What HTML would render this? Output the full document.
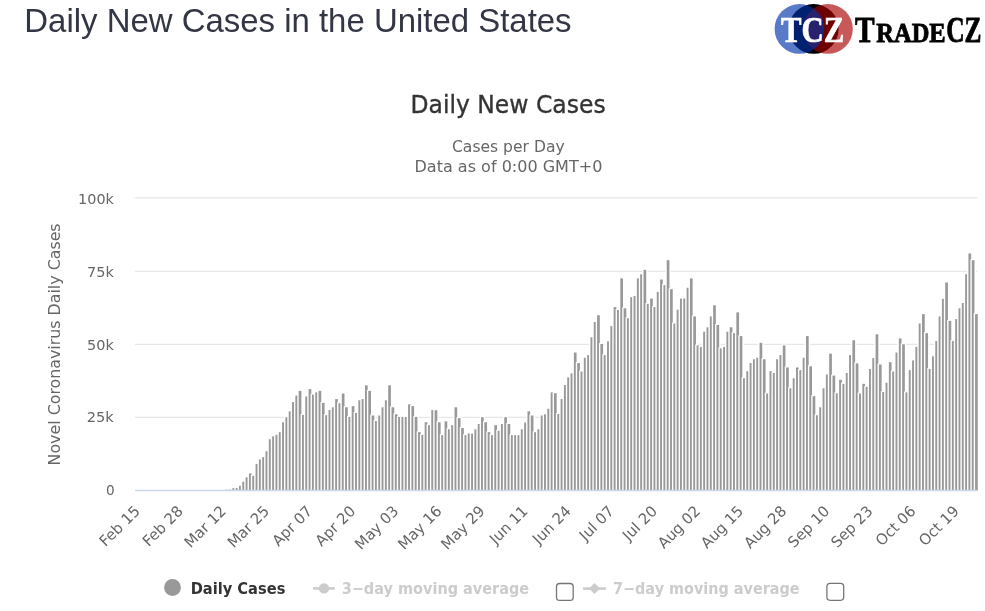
<!DOCTYPE html>
<html><head><meta charset="utf-8"><title>Daily New Cases in the United States</title>
<style>
html,body{margin:0;padding:0;background:#fff;}
body{width:985px;height:611px;overflow:hidden;position:relative;font-family:"Liberation Sans",sans-serif;}
svg{position:absolute;left:0;top:0;}
</style></head><body>
<svg width="985" height="611" viewBox="0 0 985 611">
<text x="24.30" y="31.9" font-family="'Liberation Sans', sans-serif" font-weight="normal" font-size="33" fill="#333644" textLength="547.29" lengthAdjust="spacingAndGlyphs">Daily New Cases in the United States</text>
<g id="logo">
<circle cx="813.7" cy="28.9" r="24.9" fill="#000"/>
<circle cx="827.9" cy="28.9" r="24.9" fill="rgb(170,0,0)" fill-opacity="0.65"/>
<circle cx="799.5" cy="28.9" r="24.9" fill="rgb(0,50,170)" fill-opacity="0.65"/>
<text x="781.00" y="42.0" font-family="'Liberation Serif', serif" font-weight="bold" font-size="35.3" fill="#fff" stroke="#fff" stroke-width="0.7" textLength="63.24" lengthAdjust="spacingAndGlyphs">TCZ</text>
<text y="41.8" font-family="'Liberation Serif', serif" font-weight="bold" fill="#000" stroke="#000" stroke-width="0.8"><tspan x="855.00" font-size="35.3" textLength="19.62" lengthAdjust="spacingAndGlyphs">T</tspan><tspan x="876.30" font-size="28" textLength="69.39" lengthAdjust="spacingAndGlyphs">RADE</tspan><tspan x="946.18" font-size="35.3" textLength="35.33" lengthAdjust="spacingAndGlyphs">CZ</tspan></text>
</g>
<g id="chart">
<path d="M135 197.8H977.3" stroke="#e6e6e6" stroke-width="1.2"/><path d="M135 271.4H977.3" stroke="#e6e6e6" stroke-width="1.2"/><path d="M135 344.4H977.3" stroke="#e6e6e6" stroke-width="1.2"/><path d="M135 417.3H977.3" stroke="#e6e6e6" stroke-width="1.2"/>
<g fill="#999">
<rect x="202.51" y="490.44" width="2.7" height="0.06"/>
<rect x="205.83" y="490.41" width="2.7" height="0.09"/>
<rect x="209.15" y="490.35" width="2.7" height="0.15"/>
<rect x="212.46" y="490.29" width="2.7" height="0.21"/>
<rect x="215.78" y="490.21" width="2.7" height="0.29"/>
<rect x="219.09" y="490.15" width="2.7" height="0.35"/>
<rect x="222.41" y="489.91" width="2.7" height="0.59"/>
<rect x="225.73" y="489.77" width="2.7" height="0.73"/>
<rect x="229.04" y="489.62" width="2.7" height="0.88"/>
<rect x="230.96" y="487.26" width="5.50" height="3.24" fill="#fff"/>
<rect x="232.36" y="488.16" width="2.7" height="2.34"/>
<rect x="234.27" y="486.96" width="5.50" height="3.54" fill="#fff"/>
<rect x="235.67" y="487.86" width="2.7" height="2.64"/>
<rect x="237.59" y="484.91" width="5.50" height="5.59" fill="#fff"/>
<rect x="238.99" y="485.81" width="2.7" height="4.69"/>
<rect x="240.90" y="480.81" width="5.50" height="9.69" fill="#fff"/>
<rect x="242.30" y="481.71" width="2.7" height="8.79"/>
<rect x="244.22" y="476.42" width="5.50" height="14.08" fill="#fff"/>
<rect x="245.62" y="477.31" width="2.7" height="13.18"/>
<rect x="247.54" y="472.61" width="5.50" height="17.89" fill="#fff"/>
<rect x="248.94" y="473.51" width="2.7" height="16.99"/>
<rect x="250.85" y="474.95" width="5.50" height="15.55" fill="#fff"/>
<rect x="252.25" y="475.85" width="2.7" height="14.65"/>
<rect x="254.17" y="462.94" width="5.50" height="27.56" fill="#fff"/>
<rect x="255.57" y="463.84" width="2.7" height="26.66"/>
<rect x="257.48" y="458.54" width="5.50" height="31.96" fill="#fff"/>
<rect x="258.88" y="459.44" width="2.7" height="31.06"/>
<rect x="260.80" y="456.20" width="5.50" height="34.30" fill="#fff"/>
<rect x="262.20" y="457.10" width="2.7" height="33.40"/>
<rect x="264.11" y="450.34" width="5.50" height="40.16" fill="#fff"/>
<rect x="265.51" y="451.24" width="2.7" height="39.26"/>
<rect x="267.43" y="438.33" width="5.50" height="52.17" fill="#fff"/>
<rect x="268.83" y="439.23" width="2.7" height="51.27"/>
<rect x="270.75" y="435.40" width="5.50" height="55.10" fill="#fff"/>
<rect x="272.15" y="436.30" width="2.7" height="54.20"/>
<rect x="274.06" y="433.93" width="5.50" height="56.57" fill="#fff"/>
<rect x="275.46" y="434.83" width="2.7" height="55.67"/>
<rect x="277.38" y="431.29" width="5.50" height="59.21" fill="#fff"/>
<rect x="278.78" y="432.19" width="2.7" height="58.31"/>
<rect x="280.69" y="421.33" width="5.50" height="69.17" fill="#fff"/>
<rect x="282.09" y="422.23" width="2.7" height="68.27"/>
<rect x="284.01" y="416.35" width="5.50" height="74.15" fill="#fff"/>
<rect x="285.41" y="417.25" width="2.7" height="73.25"/>
<rect x="287.32" y="410.49" width="5.50" height="80.01" fill="#fff"/>
<rect x="288.72" y="411.39" width="2.7" height="79.11"/>
<rect x="290.64" y="401.11" width="5.50" height="89.39" fill="#fff"/>
<rect x="292.04" y="402.01" width="2.7" height="88.49"/>
<rect x="293.96" y="394.67" width="5.50" height="95.83" fill="#fff"/>
<rect x="295.36" y="395.57" width="2.7" height="94.93"/>
<rect x="297.27" y="389.98" width="5.50" height="100.52" fill="#fff"/>
<rect x="298.67" y="390.88" width="2.7" height="99.62"/>
<rect x="300.59" y="414.01" width="5.50" height="76.49" fill="#fff"/>
<rect x="301.99" y="414.91" width="2.7" height="75.59"/>
<rect x="303.90" y="395.55" width="5.50" height="94.95" fill="#fff"/>
<rect x="305.30" y="396.45" width="2.7" height="94.05"/>
<rect x="307.22" y="388.22" width="5.50" height="102.28" fill="#fff"/>
<rect x="308.62" y="389.12" width="2.7" height="101.38"/>
<rect x="310.53" y="393.79" width="5.50" height="96.71" fill="#fff"/>
<rect x="311.93" y="394.69" width="2.7" height="95.81"/>
<rect x="313.85" y="391.45" width="5.50" height="99.06" fill="#fff"/>
<rect x="315.25" y="392.35" width="2.7" height="98.16"/>
<rect x="317.17" y="389.98" width="5.50" height="100.52" fill="#fff"/>
<rect x="318.57" y="390.88" width="2.7" height="99.62"/>
<rect x="320.48" y="401.99" width="5.50" height="88.51" fill="#fff"/>
<rect x="321.88" y="402.89" width="2.7" height="87.61"/>
<rect x="323.80" y="414.30" width="5.50" height="76.20" fill="#fff"/>
<rect x="325.20" y="415.20" width="2.7" height="75.30"/>
<rect x="327.11" y="409.03" width="5.50" height="81.48" fill="#fff"/>
<rect x="328.51" y="409.93" width="2.7" height="80.58"/>
<rect x="330.43" y="406.39" width="5.50" height="84.11" fill="#fff"/>
<rect x="331.83" y="407.29" width="2.7" height="83.21"/>
<rect x="333.74" y="398.18" width="5.50" height="92.32" fill="#fff"/>
<rect x="335.14" y="399.08" width="2.7" height="91.42"/>
<rect x="337.06" y="402.29" width="5.50" height="88.21" fill="#fff"/>
<rect x="338.46" y="403.19" width="2.7" height="87.31"/>
<rect x="340.38" y="392.62" width="5.50" height="97.88" fill="#fff"/>
<rect x="341.78" y="393.52" width="2.7" height="96.98"/>
<rect x="343.69" y="406.39" width="5.50" height="84.11" fill="#fff"/>
<rect x="345.09" y="407.29" width="2.7" height="83.21"/>
<rect x="347.01" y="416.06" width="5.50" height="74.44" fill="#fff"/>
<rect x="348.41" y="416.96" width="2.7" height="73.54"/>
<rect x="350.32" y="405.22" width="5.50" height="85.28" fill="#fff"/>
<rect x="351.72" y="406.12" width="2.7" height="84.38"/>
<rect x="353.64" y="411.96" width="5.50" height="78.55" fill="#fff"/>
<rect x="355.04" y="412.86" width="2.7" height="77.65"/>
<rect x="356.96" y="399.36" width="5.50" height="91.14" fill="#fff"/>
<rect x="358.36" y="400.26" width="2.7" height="90.24"/>
<rect x="360.27" y="398.18" width="5.50" height="92.32" fill="#fff"/>
<rect x="361.67" y="399.08" width="2.7" height="91.42"/>
<rect x="363.59" y="384.41" width="5.50" height="106.09" fill="#fff"/>
<rect x="364.99" y="385.31" width="2.7" height="105.19"/>
<rect x="366.90" y="389.98" width="5.50" height="100.52" fill="#fff"/>
<rect x="368.30" y="390.88" width="2.7" height="99.62"/>
<rect x="370.22" y="414.59" width="5.50" height="75.91" fill="#fff"/>
<rect x="371.62" y="415.49" width="2.7" height="75.01"/>
<rect x="373.53" y="420.16" width="5.50" height="70.34" fill="#fff"/>
<rect x="374.93" y="421.06" width="2.7" height="69.44"/>
<rect x="376.85" y="414.59" width="5.50" height="75.91" fill="#fff"/>
<rect x="378.25" y="415.49" width="2.7" height="75.01"/>
<rect x="380.17" y="406.39" width="5.50" height="84.11" fill="#fff"/>
<rect x="381.57" y="407.29" width="2.7" height="83.21"/>
<rect x="383.48" y="399.36" width="5.50" height="91.14" fill="#fff"/>
<rect x="384.88" y="400.26" width="2.7" height="90.24"/>
<rect x="386.80" y="384.41" width="5.50" height="106.09" fill="#fff"/>
<rect x="388.20" y="385.31" width="2.7" height="105.19"/>
<rect x="390.11" y="406.39" width="5.50" height="84.11" fill="#fff"/>
<rect x="391.51" y="407.29" width="2.7" height="83.21"/>
<rect x="393.43" y="413.42" width="5.50" height="77.08" fill="#fff"/>
<rect x="394.83" y="414.32" width="2.7" height="76.18"/>
<rect x="396.74" y="416.06" width="5.50" height="74.44" fill="#fff"/>
<rect x="398.14" y="416.96" width="2.7" height="73.54"/>
<rect x="400.06" y="416.06" width="5.50" height="74.44" fill="#fff"/>
<rect x="401.46" y="416.96" width="2.7" height="73.54"/>
<rect x="403.38" y="416.06" width="5.50" height="74.44" fill="#fff"/>
<rect x="404.78" y="416.96" width="2.7" height="73.54"/>
<rect x="406.69" y="403.46" width="5.50" height="87.04" fill="#fff"/>
<rect x="408.09" y="404.36" width="2.7" height="86.14"/>
<rect x="410.01" y="405.22" width="5.50" height="85.28" fill="#fff"/>
<rect x="411.41" y="406.12" width="2.7" height="84.38"/>
<rect x="413.32" y="416.06" width="5.50" height="74.44" fill="#fff"/>
<rect x="414.72" y="416.96" width="2.7" height="73.54"/>
<rect x="416.64" y="431.29" width="5.50" height="59.21" fill="#fff"/>
<rect x="418.04" y="432.19" width="2.7" height="58.31"/>
<rect x="419.95" y="433.93" width="5.50" height="56.57" fill="#fff"/>
<rect x="421.35" y="434.83" width="2.7" height="55.67"/>
<rect x="423.27" y="421.33" width="5.50" height="69.17" fill="#fff"/>
<rect x="424.67" y="422.23" width="2.7" height="68.27"/>
<rect x="426.59" y="424.26" width="5.50" height="66.24" fill="#fff"/>
<rect x="427.99" y="425.16" width="2.7" height="65.34"/>
<rect x="429.90" y="409.03" width="5.50" height="81.48" fill="#fff"/>
<rect x="431.30" y="409.93" width="2.7" height="80.58"/>
<rect x="433.22" y="409.32" width="5.50" height="81.18" fill="#fff"/>
<rect x="434.62" y="410.22" width="2.7" height="80.28"/>
<rect x="436.53" y="421.33" width="5.50" height="69.17" fill="#fff"/>
<rect x="437.93" y="422.23" width="2.7" height="68.27"/>
<rect x="439.85" y="434.22" width="5.50" height="56.28" fill="#fff"/>
<rect x="441.25" y="435.12" width="2.7" height="55.38"/>
<rect x="443.16" y="420.45" width="5.50" height="70.05" fill="#fff"/>
<rect x="444.56" y="421.35" width="2.7" height="69.15"/>
<rect x="446.48" y="428.36" width="5.50" height="62.14" fill="#fff"/>
<rect x="447.88" y="429.26" width="2.7" height="61.24"/>
<rect x="449.80" y="424.26" width="5.50" height="66.24" fill="#fff"/>
<rect x="451.20" y="425.16" width="2.7" height="65.34"/>
<rect x="453.11" y="406.39" width="5.50" height="84.11" fill="#fff"/>
<rect x="454.51" y="407.29" width="2.7" height="83.21"/>
<rect x="456.43" y="417.23" width="5.50" height="73.27" fill="#fff"/>
<rect x="457.83" y="418.13" width="2.7" height="72.37"/>
<rect x="459.74" y="427.19" width="5.50" height="63.31" fill="#fff"/>
<rect x="461.14" y="428.09" width="2.7" height="62.41"/>
<rect x="463.06" y="434.22" width="5.50" height="56.28" fill="#fff"/>
<rect x="464.46" y="435.12" width="2.7" height="55.38"/>
<rect x="466.37" y="432.47" width="5.50" height="58.04" fill="#fff"/>
<rect x="467.77" y="433.37" width="2.7" height="57.14"/>
<rect x="469.69" y="432.76" width="5.50" height="57.74" fill="#fff"/>
<rect x="471.09" y="433.66" width="2.7" height="56.84"/>
<rect x="473.01" y="428.36" width="5.50" height="62.14" fill="#fff"/>
<rect x="474.41" y="429.26" width="2.7" height="61.24"/>
<rect x="476.32" y="423.09" width="5.50" height="67.41" fill="#fff"/>
<rect x="477.72" y="423.99" width="2.7" height="66.51"/>
<rect x="479.64" y="416.35" width="5.50" height="74.15" fill="#fff"/>
<rect x="481.04" y="417.25" width="2.7" height="73.25"/>
<rect x="482.95" y="421.33" width="5.50" height="69.17" fill="#fff"/>
<rect x="484.35" y="422.23" width="2.7" height="68.27"/>
<rect x="486.27" y="431.29" width="5.50" height="59.21" fill="#fff"/>
<rect x="487.67" y="432.19" width="2.7" height="58.31"/>
<rect x="489.59" y="434.22" width="5.50" height="56.28" fill="#fff"/>
<rect x="490.99" y="435.12" width="2.7" height="55.38"/>
<rect x="492.90" y="424.26" width="5.50" height="66.24" fill="#fff"/>
<rect x="494.30" y="425.16" width="2.7" height="65.34"/>
<rect x="496.22" y="429.83" width="5.50" height="60.67" fill="#fff"/>
<rect x="497.62" y="430.73" width="2.7" height="59.77"/>
<rect x="499.53" y="423.09" width="5.50" height="67.41" fill="#fff"/>
<rect x="500.93" y="423.99" width="2.7" height="66.51"/>
<rect x="502.85" y="416.35" width="5.50" height="74.15" fill="#fff"/>
<rect x="504.25" y="417.25" width="2.7" height="73.25"/>
<rect x="506.16" y="423.09" width="5.50" height="67.41" fill="#fff"/>
<rect x="507.56" y="423.99" width="2.7" height="66.51"/>
<rect x="509.48" y="434.22" width="5.50" height="56.28" fill="#fff"/>
<rect x="510.88" y="435.12" width="2.7" height="55.38"/>
<rect x="512.80" y="434.22" width="5.50" height="56.28" fill="#fff"/>
<rect x="514.20" y="435.12" width="2.7" height="55.38"/>
<rect x="516.11" y="434.22" width="5.50" height="56.28" fill="#fff"/>
<rect x="517.51" y="435.12" width="2.7" height="55.38"/>
<rect x="519.43" y="428.36" width="5.50" height="62.14" fill="#fff"/>
<rect x="520.83" y="429.26" width="2.7" height="61.24"/>
<rect x="522.74" y="421.62" width="5.50" height="68.88" fill="#fff"/>
<rect x="524.14" y="422.52" width="2.7" height="67.98"/>
<rect x="526.06" y="410.49" width="5.50" height="80.01" fill="#fff"/>
<rect x="527.46" y="411.39" width="2.7" height="79.11"/>
<rect x="529.37" y="414.59" width="5.50" height="75.91" fill="#fff"/>
<rect x="530.77" y="415.49" width="2.7" height="75.01"/>
<rect x="532.69" y="431.29" width="5.50" height="59.21" fill="#fff"/>
<rect x="534.09" y="432.19" width="2.7" height="58.31"/>
<rect x="536.01" y="428.36" width="5.50" height="62.14" fill="#fff"/>
<rect x="537.41" y="429.26" width="2.7" height="61.24"/>
<rect x="539.32" y="414.59" width="5.50" height="75.91" fill="#fff"/>
<rect x="540.72" y="415.49" width="2.7" height="75.01"/>
<rect x="542.64" y="413.42" width="5.50" height="77.08" fill="#fff"/>
<rect x="544.04" y="414.32" width="2.7" height="76.18"/>
<rect x="545.95" y="407.85" width="5.50" height="82.65" fill="#fff"/>
<rect x="547.35" y="408.75" width="2.7" height="81.75"/>
<rect x="549.27" y="391.45" width="5.50" height="99.06" fill="#fff"/>
<rect x="550.67" y="392.35" width="2.7" height="98.16"/>
<rect x="552.58" y="392.32" width="5.50" height="98.18" fill="#fff"/>
<rect x="553.98" y="393.22" width="2.7" height="97.28"/>
<rect x="555.90" y="413.13" width="5.50" height="77.37" fill="#fff"/>
<rect x="557.30" y="414.03" width="2.7" height="76.47"/>
<rect x="559.22" y="398.18" width="5.50" height="92.32" fill="#fff"/>
<rect x="560.62" y="399.08" width="2.7" height="91.42"/>
<rect x="562.53" y="384.12" width="5.50" height="106.38" fill="#fff"/>
<rect x="563.93" y="385.02" width="2.7" height="105.48"/>
<rect x="565.85" y="376.50" width="5.50" height="114.00" fill="#fff"/>
<rect x="567.25" y="377.40" width="2.7" height="113.10"/>
<rect x="569.16" y="372.40" width="5.50" height="118.10" fill="#fff"/>
<rect x="570.56" y="373.30" width="2.7" height="117.20"/>
<rect x="572.48" y="351.60" width="5.50" height="138.90" fill="#fff"/>
<rect x="573.88" y="352.50" width="2.7" height="138.00"/>
<rect x="575.79" y="362.15" width="5.50" height="128.35" fill="#fff"/>
<rect x="577.19" y="363.05" width="2.7" height="127.45"/>
<rect x="579.11" y="370.64" width="5.50" height="119.86" fill="#fff"/>
<rect x="580.51" y="371.54" width="2.7" height="118.96"/>
<rect x="582.43" y="356.87" width="5.50" height="133.63" fill="#fff"/>
<rect x="583.83" y="357.77" width="2.7" height="132.73"/>
<rect x="585.74" y="354.23" width="5.50" height="136.27" fill="#fff"/>
<rect x="587.14" y="355.13" width="2.7" height="135.37"/>
<rect x="589.06" y="336.36" width="5.50" height="154.14" fill="#fff"/>
<rect x="590.46" y="337.26" width="2.7" height="153.24"/>
<rect x="592.37" y="321.12" width="5.50" height="169.38" fill="#fff"/>
<rect x="593.77" y="322.02" width="2.7" height="168.47"/>
<rect x="595.69" y="314.39" width="5.50" height="176.11" fill="#fff"/>
<rect x="597.09" y="315.29" width="2.7" height="175.21"/>
<rect x="599.00" y="343.10" width="5.50" height="147.40" fill="#fff"/>
<rect x="600.40" y="344.00" width="2.7" height="146.50"/>
<rect x="602.32" y="354.23" width="5.50" height="136.27" fill="#fff"/>
<rect x="603.72" y="355.13" width="2.7" height="135.37"/>
<rect x="605.64" y="340.46" width="5.50" height="150.04" fill="#fff"/>
<rect x="607.04" y="341.36" width="2.7" height="149.14"/>
<rect x="608.95" y="325.23" width="5.50" height="165.27" fill="#fff"/>
<rect x="610.35" y="326.13" width="2.7" height="164.37"/>
<rect x="612.27" y="306.18" width="5.50" height="184.32" fill="#fff"/>
<rect x="613.67" y="307.08" width="2.7" height="183.42"/>
<rect x="615.58" y="309.11" width="5.50" height="181.39" fill="#fff"/>
<rect x="616.98" y="310.01" width="2.7" height="180.49"/>
<rect x="618.90" y="277.47" width="5.50" height="213.03" fill="#fff"/>
<rect x="620.30" y="278.37" width="2.7" height="212.13"/>
<rect x="622.21" y="307.35" width="5.50" height="183.15" fill="#fff"/>
<rect x="623.61" y="308.25" width="2.7" height="182.25"/>
<rect x="625.53" y="317.32" width="5.50" height="173.18" fill="#fff"/>
<rect x="626.93" y="318.22" width="2.7" height="172.28"/>
<rect x="628.85" y="296.22" width="5.50" height="194.28" fill="#fff"/>
<rect x="630.25" y="297.12" width="2.7" height="193.38"/>
<rect x="632.16" y="295.05" width="5.50" height="195.45" fill="#fff"/>
<rect x="633.56" y="295.95" width="2.7" height="194.55"/>
<rect x="635.48" y="277.47" width="5.50" height="213.03" fill="#fff"/>
<rect x="636.88" y="278.37" width="2.7" height="212.13"/>
<rect x="638.79" y="273.37" width="5.50" height="217.13" fill="#fff"/>
<rect x="640.19" y="274.27" width="2.7" height="216.23"/>
<rect x="642.11" y="268.97" width="5.50" height="221.53" fill="#fff"/>
<rect x="643.51" y="269.87" width="2.7" height="220.63"/>
<rect x="645.43" y="302.96" width="5.50" height="187.54" fill="#fff"/>
<rect x="646.83" y="303.86" width="2.7" height="186.64"/>
<rect x="648.74" y="297.69" width="5.50" height="192.82" fill="#fff"/>
<rect x="650.14" y="298.58" width="2.7" height="191.92"/>
<rect x="652.06" y="306.18" width="5.50" height="184.32" fill="#fff"/>
<rect x="653.46" y="307.08" width="2.7" height="183.42"/>
<rect x="655.37" y="290.95" width="5.50" height="199.55" fill="#fff"/>
<rect x="656.77" y="291.85" width="2.7" height="198.65"/>
<rect x="658.69" y="278.64" width="5.50" height="211.86" fill="#fff"/>
<rect x="660.09" y="279.54" width="2.7" height="210.96"/>
<rect x="662.00" y="284.21" width="5.50" height="206.29" fill="#fff"/>
<rect x="663.40" y="285.11" width="2.7" height="205.39"/>
<rect x="665.32" y="259.30" width="5.50" height="231.20" fill="#fff"/>
<rect x="666.72" y="260.20" width="2.7" height="230.30"/>
<rect x="668.64" y="288.31" width="5.50" height="202.19" fill="#fff"/>
<rect x="670.04" y="289.21" width="2.7" height="201.29"/>
<rect x="671.95" y="322.59" width="5.50" height="167.91" fill="#fff"/>
<rect x="673.35" y="323.49" width="2.7" height="167.01"/>
<rect x="675.27" y="308.82" width="5.50" height="181.68" fill="#fff"/>
<rect x="676.67" y="309.72" width="2.7" height="180.78"/>
<rect x="678.58" y="297.69" width="5.50" height="192.82" fill="#fff"/>
<rect x="679.98" y="298.58" width="2.7" height="191.92"/>
<rect x="681.90" y="297.69" width="5.50" height="192.82" fill="#fff"/>
<rect x="683.30" y="298.58" width="2.7" height="191.92"/>
<rect x="685.21" y="286.84" width="5.50" height="203.66" fill="#fff"/>
<rect x="686.61" y="287.74" width="2.7" height="202.76"/>
<rect x="688.53" y="277.47" width="5.50" height="213.03" fill="#fff"/>
<rect x="689.93" y="278.37" width="2.7" height="212.13"/>
<rect x="691.85" y="315.56" width="5.50" height="174.94" fill="#fff"/>
<rect x="693.25" y="316.46" width="2.7" height="174.04"/>
<rect x="695.16" y="344.57" width="5.50" height="145.94" fill="#fff"/>
<rect x="696.56" y="345.47" width="2.7" height="145.03"/>
<rect x="698.48" y="346.03" width="5.50" height="144.47" fill="#fff"/>
<rect x="699.88" y="346.93" width="2.7" height="143.57"/>
<rect x="701.79" y="330.79" width="5.50" height="159.71" fill="#fff"/>
<rect x="703.19" y="331.69" width="2.7" height="158.81"/>
<rect x="705.11" y="326.40" width="5.50" height="164.10" fill="#fff"/>
<rect x="706.51" y="327.30" width="2.7" height="163.20"/>
<rect x="708.42" y="315.56" width="5.50" height="174.94" fill="#fff"/>
<rect x="709.82" y="316.46" width="2.7" height="174.04"/>
<rect x="711.74" y="304.42" width="5.50" height="186.08" fill="#fff"/>
<rect x="713.14" y="305.32" width="2.7" height="185.18"/>
<rect x="715.06" y="324.06" width="5.50" height="166.44" fill="#fff"/>
<rect x="716.46" y="324.96" width="2.7" height="165.54"/>
<rect x="718.37" y="347.50" width="5.50" height="143.00" fill="#fff"/>
<rect x="719.77" y="348.39" width="2.7" height="142.10"/>
<rect x="721.69" y="346.03" width="5.50" height="144.47" fill="#fff"/>
<rect x="723.09" y="346.93" width="2.7" height="143.57"/>
<rect x="725.00" y="330.79" width="5.50" height="159.71" fill="#fff"/>
<rect x="726.40" y="331.69" width="2.7" height="158.81"/>
<rect x="728.32" y="326.40" width="5.50" height="164.10" fill="#fff"/>
<rect x="729.72" y="327.30" width="2.7" height="163.20"/>
<rect x="731.63" y="332.26" width="5.50" height="158.24" fill="#fff"/>
<rect x="733.03" y="333.16" width="2.7" height="157.34"/>
<rect x="734.95" y="311.46" width="5.50" height="179.04" fill="#fff"/>
<rect x="736.35" y="312.36" width="2.7" height="178.14"/>
<rect x="738.27" y="335.19" width="5.50" height="155.31" fill="#fff"/>
<rect x="739.67" y="336.09" width="2.7" height="154.41"/>
<rect x="741.58" y="377.38" width="5.50" height="113.12" fill="#fff"/>
<rect x="742.98" y="378.28" width="2.7" height="112.22"/>
<rect x="744.90" y="370.35" width="5.50" height="120.15" fill="#fff"/>
<rect x="746.30" y="371.25" width="2.7" height="119.25"/>
<rect x="748.21" y="362.15" width="5.50" height="128.35" fill="#fff"/>
<rect x="749.61" y="363.05" width="2.7" height="127.45"/>
<rect x="751.53" y="358.34" width="5.50" height="132.16" fill="#fff"/>
<rect x="752.93" y="359.24" width="2.7" height="131.26"/>
<rect x="754.84" y="356.87" width="5.50" height="133.63" fill="#fff"/>
<rect x="756.24" y="357.77" width="2.7" height="132.73"/>
<rect x="758.16" y="341.93" width="5.50" height="148.57" fill="#fff"/>
<rect x="759.56" y="342.83" width="2.7" height="147.67"/>
<rect x="761.48" y="358.34" width="5.50" height="132.16" fill="#fff"/>
<rect x="762.88" y="359.24" width="2.7" height="131.26"/>
<rect x="764.79" y="392.62" width="5.50" height="97.88" fill="#fff"/>
<rect x="766.19" y="393.52" width="2.7" height="96.98"/>
<rect x="768.11" y="370.35" width="5.50" height="120.15" fill="#fff"/>
<rect x="769.51" y="371.25" width="2.7" height="119.25"/>
<rect x="771.42" y="372.11" width="5.50" height="118.39" fill="#fff"/>
<rect x="772.82" y="373.01" width="2.7" height="117.49"/>
<rect x="774.74" y="358.34" width="5.50" height="132.16" fill="#fff"/>
<rect x="776.14" y="359.24" width="2.7" height="131.26"/>
<rect x="778.06" y="354.23" width="5.50" height="136.27" fill="#fff"/>
<rect x="779.46" y="355.13" width="2.7" height="135.37"/>
<rect x="781.37" y="344.57" width="5.50" height="145.94" fill="#fff"/>
<rect x="782.77" y="345.47" width="2.7" height="145.03"/>
<rect x="784.69" y="366.54" width="5.50" height="123.96" fill="#fff"/>
<rect x="786.09" y="367.44" width="2.7" height="123.06"/>
<rect x="788.00" y="387.34" width="5.50" height="103.16" fill="#fff"/>
<rect x="789.40" y="388.24" width="2.7" height="102.26"/>
<rect x="791.32" y="377.38" width="5.50" height="113.12" fill="#fff"/>
<rect x="792.72" y="378.28" width="2.7" height="112.22"/>
<rect x="794.63" y="366.54" width="5.50" height="123.96" fill="#fff"/>
<rect x="796.03" y="367.44" width="2.7" height="123.06"/>
<rect x="797.95" y="369.18" width="5.50" height="121.32" fill="#fff"/>
<rect x="799.35" y="370.08" width="2.7" height="120.42"/>
<rect x="801.27" y="356.87" width="5.50" height="133.63" fill="#fff"/>
<rect x="802.67" y="357.77" width="2.7" height="132.73"/>
<rect x="804.58" y="335.19" width="5.50" height="155.31" fill="#fff"/>
<rect x="805.98" y="336.09" width="2.7" height="154.41"/>
<rect x="807.90" y="365.37" width="5.50" height="125.13" fill="#fff"/>
<rect x="809.30" y="366.27" width="2.7" height="124.23"/>
<rect x="811.21" y="395.25" width="5.50" height="95.25" fill="#fff"/>
<rect x="812.61" y="396.15" width="2.7" height="94.35"/>
<rect x="814.53" y="414.30" width="5.50" height="76.20" fill="#fff"/>
<rect x="815.93" y="415.20" width="2.7" height="75.30"/>
<rect x="817.84" y="406.39" width="5.50" height="84.11" fill="#fff"/>
<rect x="819.24" y="407.29" width="2.7" height="83.21"/>
<rect x="821.16" y="387.34" width="5.50" height="103.16" fill="#fff"/>
<rect x="822.56" y="388.24" width="2.7" height="102.26"/>
<rect x="824.48" y="373.57" width="5.50" height="116.93" fill="#fff"/>
<rect x="825.88" y="374.47" width="2.7" height="116.03"/>
<rect x="827.79" y="352.77" width="5.50" height="137.73" fill="#fff"/>
<rect x="829.19" y="353.67" width="2.7" height="136.83"/>
<rect x="831.11" y="374.74" width="5.50" height="115.76" fill="#fff"/>
<rect x="832.51" y="375.64" width="2.7" height="114.86"/>
<rect x="834.42" y="392.32" width="5.50" height="98.18" fill="#fff"/>
<rect x="835.82" y="393.22" width="2.7" height="97.28"/>
<rect x="837.74" y="378.85" width="5.50" height="111.65" fill="#fff"/>
<rect x="839.14" y="379.75" width="2.7" height="110.75"/>
<rect x="841.05" y="382.95" width="5.50" height="107.55" fill="#fff"/>
<rect x="842.45" y="383.85" width="2.7" height="106.65"/>
<rect x="844.37" y="372.11" width="5.50" height="118.39" fill="#fff"/>
<rect x="845.77" y="373.01" width="2.7" height="117.49"/>
<rect x="847.69" y="354.23" width="5.50" height="136.27" fill="#fff"/>
<rect x="849.09" y="355.13" width="2.7" height="135.37"/>
<rect x="851.00" y="339.29" width="5.50" height="151.21" fill="#fff"/>
<rect x="852.40" y="340.19" width="2.7" height="150.31"/>
<rect x="854.32" y="362.44" width="5.50" height="128.06" fill="#fff"/>
<rect x="855.72" y="363.34" width="2.7" height="127.16"/>
<rect x="857.63" y="392.62" width="5.50" height="97.88" fill="#fff"/>
<rect x="859.03" y="393.52" width="2.7" height="96.98"/>
<rect x="860.95" y="382.95" width="5.50" height="107.55" fill="#fff"/>
<rect x="862.35" y="383.85" width="2.7" height="106.65"/>
<rect x="864.26" y="385.88" width="5.50" height="104.62" fill="#fff"/>
<rect x="865.66" y="386.78" width="2.7" height="103.72"/>
<rect x="867.58" y="368.00" width="5.50" height="122.50" fill="#fff"/>
<rect x="868.98" y="368.90" width="2.7" height="121.59"/>
<rect x="870.90" y="357.16" width="5.50" height="133.34" fill="#fff"/>
<rect x="872.30" y="358.06" width="2.7" height="132.44"/>
<rect x="874.21" y="333.43" width="5.50" height="157.07" fill="#fff"/>
<rect x="875.61" y="334.33" width="2.7" height="156.17"/>
<rect x="877.53" y="363.61" width="5.50" height="126.89" fill="#fff"/>
<rect x="878.93" y="364.51" width="2.7" height="125.99"/>
<rect x="880.84" y="391.15" width="5.50" height="99.35" fill="#fff"/>
<rect x="882.24" y="392.05" width="2.7" height="98.45"/>
<rect x="884.16" y="381.78" width="5.50" height="108.72" fill="#fff"/>
<rect x="885.56" y="382.68" width="2.7" height="107.82"/>
<rect x="887.47" y="361.27" width="5.50" height="129.23" fill="#fff"/>
<rect x="888.87" y="362.17" width="2.7" height="128.33"/>
<rect x="890.79" y="370.64" width="5.50" height="119.86" fill="#fff"/>
<rect x="892.19" y="371.54" width="2.7" height="118.96"/>
<rect x="894.11" y="351.60" width="5.50" height="138.90" fill="#fff"/>
<rect x="895.51" y="352.50" width="2.7" height="138.00"/>
<rect x="897.42" y="337.53" width="5.50" height="152.97" fill="#fff"/>
<rect x="898.82" y="338.43" width="2.7" height="152.07"/>
<rect x="900.74" y="343.39" width="5.50" height="147.11" fill="#fff"/>
<rect x="902.14" y="344.29" width="2.7" height="146.21"/>
<rect x="904.05" y="391.45" width="5.50" height="99.06" fill="#fff"/>
<rect x="905.45" y="392.35" width="2.7" height="98.16"/>
<rect x="907.37" y="369.18" width="5.50" height="121.32" fill="#fff"/>
<rect x="908.77" y="370.08" width="2.7" height="120.42"/>
<rect x="910.69" y="359.51" width="5.50" height="130.99" fill="#fff"/>
<rect x="912.09" y="360.41" width="2.7" height="130.09"/>
<rect x="914.00" y="346.03" width="5.50" height="144.47" fill="#fff"/>
<rect x="915.40" y="346.93" width="2.7" height="143.57"/>
<rect x="917.32" y="322.59" width="5.50" height="167.91" fill="#fff"/>
<rect x="918.72" y="323.49" width="2.7" height="167.01"/>
<rect x="920.63" y="313.21" width="5.50" height="177.29" fill="#fff"/>
<rect x="922.03" y="314.11" width="2.7" height="176.39"/>
<rect x="923.95" y="332.26" width="5.50" height="158.24" fill="#fff"/>
<rect x="925.35" y="333.16" width="2.7" height="157.34"/>
<rect x="927.26" y="368.00" width="5.50" height="122.50" fill="#fff"/>
<rect x="928.66" y="368.90" width="2.7" height="121.59"/>
<rect x="930.58" y="355.41" width="5.50" height="135.09" fill="#fff"/>
<rect x="931.98" y="356.31" width="2.7" height="134.19"/>
<rect x="933.90" y="340.17" width="5.50" height="150.33" fill="#fff"/>
<rect x="935.30" y="341.07" width="2.7" height="149.43"/>
<rect x="937.21" y="315.56" width="5.50" height="174.94" fill="#fff"/>
<rect x="938.61" y="316.46" width="2.7" height="174.04"/>
<rect x="940.53" y="297.98" width="5.50" height="192.52" fill="#fff"/>
<rect x="941.93" y="298.88" width="2.7" height="191.62"/>
<rect x="943.84" y="281.57" width="5.50" height="208.93" fill="#fff"/>
<rect x="945.24" y="282.47" width="2.7" height="208.03"/>
<rect x="947.16" y="319.95" width="5.50" height="170.55" fill="#fff"/>
<rect x="948.56" y="320.85" width="2.7" height="169.65"/>
<rect x="950.47" y="340.17" width="5.50" height="150.33" fill="#fff"/>
<rect x="951.87" y="341.07" width="2.7" height="149.43"/>
<rect x="953.79" y="318.20" width="5.50" height="172.31" fill="#fff"/>
<rect x="955.19" y="319.10" width="2.7" height="171.41"/>
<rect x="957.11" y="307.35" width="5.50" height="183.15" fill="#fff"/>
<rect x="958.51" y="308.25" width="2.7" height="182.25"/>
<rect x="960.42" y="302.08" width="5.50" height="188.42" fill="#fff"/>
<rect x="961.82" y="302.98" width="2.7" height="187.52"/>
<rect x="963.74" y="273.37" width="5.50" height="217.13" fill="#fff"/>
<rect x="965.14" y="274.27" width="2.7" height="216.23"/>
<rect x="967.05" y="252.56" width="5.50" height="237.94" fill="#fff"/>
<rect x="968.45" y="253.46" width="2.7" height="237.04"/>
<rect x="970.37" y="259.30" width="5.50" height="231.20" fill="#fff"/>
<rect x="971.77" y="260.20" width="2.7" height="230.30"/>
<rect x="973.68" y="313.21" width="5.50" height="177.29" fill="#fff"/>
<rect x="975.08" y="314.11" width="2.7" height="176.39"/>
</g>
<path d="M135 490.5H977.3" stroke="#ccd6eb" stroke-width="1.3"/>
<text x="410.44" y="113.0" font-family="'DejaVu Sans', 'Liberation Sans', sans-serif" font-weight="normal" font-size="25.2" fill="#333" stroke="#333" stroke-width="0.35" textLength="195.21" lengthAdjust="spacingAndGlyphs">Daily New Cases</text>
<text x="452.00" y="151.7" font-family="'DejaVu Sans', 'Liberation Sans', sans-serif" font-weight="normal" font-size="15.8" fill="#666" textLength="112.64" lengthAdjust="spacingAndGlyphs">Cases per Day</text>
<text x="414.49" y="171.6" font-family="'DejaVu Sans', 'Liberation Sans', sans-serif" font-weight="normal" font-size="15.8" fill="#666" textLength="187.88" lengthAdjust="spacingAndGlyphs">Data as of 0:00 GMT+0</text>
<text x="78.12" y="203.8" font-family="'DejaVu Sans', 'Liberation Sans', sans-serif" font-weight="normal" font-size="14.6" fill="#666" textLength="35.74" lengthAdjust="spacingAndGlyphs">100k</text>
<text x="87.01" y="276.6" font-family="'DejaVu Sans', 'Liberation Sans', sans-serif" font-weight="normal" font-size="14.6" fill="#666" textLength="26.85" lengthAdjust="spacingAndGlyphs">75k</text>
<text x="87.01" y="349.6" font-family="'DejaVu Sans', 'Liberation Sans', sans-serif" font-weight="normal" font-size="14.6" fill="#666" textLength="26.85" lengthAdjust="spacingAndGlyphs">50k</text>
<text x="86.70" y="421.8" font-family="'DejaVu Sans', 'Liberation Sans', sans-serif" font-weight="normal" font-size="14.6" fill="#666" textLength="27.15" lengthAdjust="spacingAndGlyphs">25k</text>
<text transform="translate(106.00 494.6) scale(0.9333 1)" font-family="'DejaVu Sans', 'Liberation Sans', sans-serif" font-weight="normal" font-size="14.6" fill="#666">0</text>
<text x="190.67" y="594.0" font-family="'DejaVu Sans', 'Liberation Sans', sans-serif" font-weight="bold" font-size="15.8" fill="#333" textLength="94.70" lengthAdjust="spacingAndGlyphs">Daily Cases</text>
<text x="341.68" y="593.9" font-family="'DejaVu Sans', 'Liberation Sans', sans-serif" font-weight="bold" font-size="15.8" fill="#ccc" textLength="187.47" lengthAdjust="spacingAndGlyphs">3−day moving average</text>
<text x="612.99" y="593.9" font-family="'DejaVu Sans', 'Liberation Sans', sans-serif" font-weight="bold" font-size="15.8" fill="#ccc" textLength="186.56" lengthAdjust="spacingAndGlyphs">7−day moving average</text>
<text x="-1.00" y="0" transform="translate(60.0 464.4) rotate(-90)" font-family="'DejaVu Sans', 'Liberation Sans', sans-serif" font-weight="normal" font-size="15.8" fill="#666" textLength="242.03" lengthAdjust="spacingAndGlyphs">Novel Coronavirus Daily Cases</text>
<text x="-49.37" y="0" transform="translate(140.46 512.4) rotate(-45)" font-family="'DejaVu Sans', 'Liberation Sans', sans-serif" font-weight="normal" font-size="15.0" fill="#666" textLength="49.91" lengthAdjust="spacingAndGlyphs">Feb 15</text>
<text x="-49.37" y="0" transform="translate(183.56 512.4) rotate(-45)" font-family="'DejaVu Sans', 'Liberation Sans', sans-serif" font-weight="normal" font-size="15.0" fill="#666" textLength="49.91" lengthAdjust="spacingAndGlyphs">Feb 28</text>
<text x="-51.10" y="0" transform="translate(226.67 512.4) rotate(-45)" font-family="'DejaVu Sans', 'Liberation Sans', sans-serif" font-weight="normal" font-size="15.0" fill="#666" textLength="51.63" lengthAdjust="spacingAndGlyphs">Mar 12</text>
<text x="-51.10" y="0" transform="translate(269.77 512.4) rotate(-45)" font-family="'DejaVu Sans', 'Liberation Sans', sans-serif" font-weight="normal" font-size="15.0" fill="#666" textLength="51.63" lengthAdjust="spacingAndGlyphs">Mar 25</text>
<text x="-48.77" y="0" transform="translate(312.88 512.4) rotate(-45)" font-family="'DejaVu Sans', 'Liberation Sans', sans-serif" font-weight="normal" font-size="15.0" fill="#666" textLength="49.31" lengthAdjust="spacingAndGlyphs">Apr 07</text>
<text x="-48.77" y="0" transform="translate(355.98 512.4) rotate(-45)" font-family="'DejaVu Sans', 'Liberation Sans', sans-serif" font-weight="normal" font-size="15.0" fill="#666" textLength="49.31" lengthAdjust="spacingAndGlyphs">Apr 20</text>
<text x="-53.78" y="0" transform="translate(399.09 512.4) rotate(-45)" font-family="'DejaVu Sans', 'Liberation Sans', sans-serif" font-weight="normal" font-size="15.0" fill="#666" textLength="54.32" lengthAdjust="spacingAndGlyphs">May 03</text>
<text x="-53.78" y="0" transform="translate(442.19 512.4) rotate(-45)" font-family="'DejaVu Sans', 'Liberation Sans', sans-serif" font-weight="normal" font-size="15.0" fill="#666" textLength="54.32" lengthAdjust="spacingAndGlyphs">May 16</text>
<text x="-53.78" y="0" transform="translate(485.3 512.4) rotate(-45)" font-family="'DejaVu Sans', 'Liberation Sans', sans-serif" font-weight="normal" font-size="15.0" fill="#666" textLength="54.32" lengthAdjust="spacingAndGlyphs">May 29</text>
<text x="-46.28" y="0" transform="translate(528.4 512.4) rotate(-45)" font-family="'DejaVu Sans', 'Liberation Sans', sans-serif" font-weight="normal" font-size="15.0" fill="#666" textLength="46.82" lengthAdjust="spacingAndGlyphs">Jun 11</text>
<text x="-46.28" y="0" transform="translate(571.51 512.4) rotate(-45)" font-family="'DejaVu Sans', 'Liberation Sans', sans-serif" font-weight="normal" font-size="15.0" fill="#666" textLength="46.82" lengthAdjust="spacingAndGlyphs">Jun 24</text>
<text x="-41.00" y="0" transform="translate(614.61 512.4) rotate(-45)" font-family="'DejaVu Sans', 'Liberation Sans', sans-serif" font-weight="normal" font-size="15.0" fill="#666" textLength="41.53" lengthAdjust="spacingAndGlyphs">Jul 07</text>
<text x="-41.00" y="0" transform="translate(657.71 512.4) rotate(-45)" font-family="'DejaVu Sans', 'Liberation Sans', sans-serif" font-weight="normal" font-size="15.0" fill="#666" textLength="41.53" lengthAdjust="spacingAndGlyphs">Jul 20</text>
<text x="-52.08" y="0" transform="translate(700.82 512.4) rotate(-45)" font-family="'DejaVu Sans', 'Liberation Sans', sans-serif" font-weight="normal" font-size="15.0" fill="#666" textLength="52.61" lengthAdjust="spacingAndGlyphs">Aug 02</text>
<text x="-52.08" y="0" transform="translate(743.92 512.4) rotate(-45)" font-family="'DejaVu Sans', 'Liberation Sans', sans-serif" font-weight="normal" font-size="15.0" fill="#666" textLength="52.61" lengthAdjust="spacingAndGlyphs">Aug 15</text>
<text x="-52.08" y="0" transform="translate(787.03 512.4) rotate(-45)" font-family="'DejaVu Sans', 'Liberation Sans', sans-serif" font-weight="normal" font-size="15.0" fill="#666" textLength="52.61" lengthAdjust="spacingAndGlyphs">Aug 28</text>
<text x="-51.07" y="0" transform="translate(830.13 512.4) rotate(-45)" font-family="'DejaVu Sans', 'Liberation Sans', sans-serif" font-weight="normal" font-size="15.0" fill="#666" textLength="51.61" lengthAdjust="spacingAndGlyphs">Sep 10</text>
<text x="-51.07" y="0" transform="translate(873.24 512.4) rotate(-45)" font-family="'DejaVu Sans', 'Liberation Sans', sans-serif" font-weight="normal" font-size="15.0" fill="#666" textLength="51.61" lengthAdjust="spacingAndGlyphs">Sep 23</text>
<text x="-48.75" y="0" transform="translate(916.34 512.4) rotate(-45)" font-family="'DejaVu Sans', 'Liberation Sans', sans-serif" font-weight="normal" font-size="15.0" fill="#666" textLength="49.29" lengthAdjust="spacingAndGlyphs">Oct 06</text>
<text x="-48.75" y="0" transform="translate(959.45 512.4) rotate(-45)" font-family="'DejaVu Sans', 'Liberation Sans', sans-serif" font-weight="normal" font-size="15.0" fill="#666" textLength="49.29" lengthAdjust="spacingAndGlyphs">Oct 19</text>
<circle cx="172.5" cy="587.5" r="8.4" fill="#999"/>
<path d="M313 588.4H334.8" stroke="#ccc" stroke-width="2.6"/>
<circle cx="324" cy="588.4" r="5.2" fill="#ccc"/>
<rect x="556.5" y="583.5" width="16.7" height="16.9" rx="3.2" fill="#fff" stroke="#767676" stroke-width="1.3"/>
<path d="M583.1 588.6H605.8" stroke="#ccc" stroke-width="2.6"/>
<path d="M594.5 583.1L600 588.6L594.5 594.1L589 588.6Z" fill="#ccc"/>
<rect x="826.9" y="583.3" width="16.8" height="17" rx="3.2" fill="#fff" stroke="#767676" stroke-width="1.3"/>
</g>
</svg>
</body></html>
